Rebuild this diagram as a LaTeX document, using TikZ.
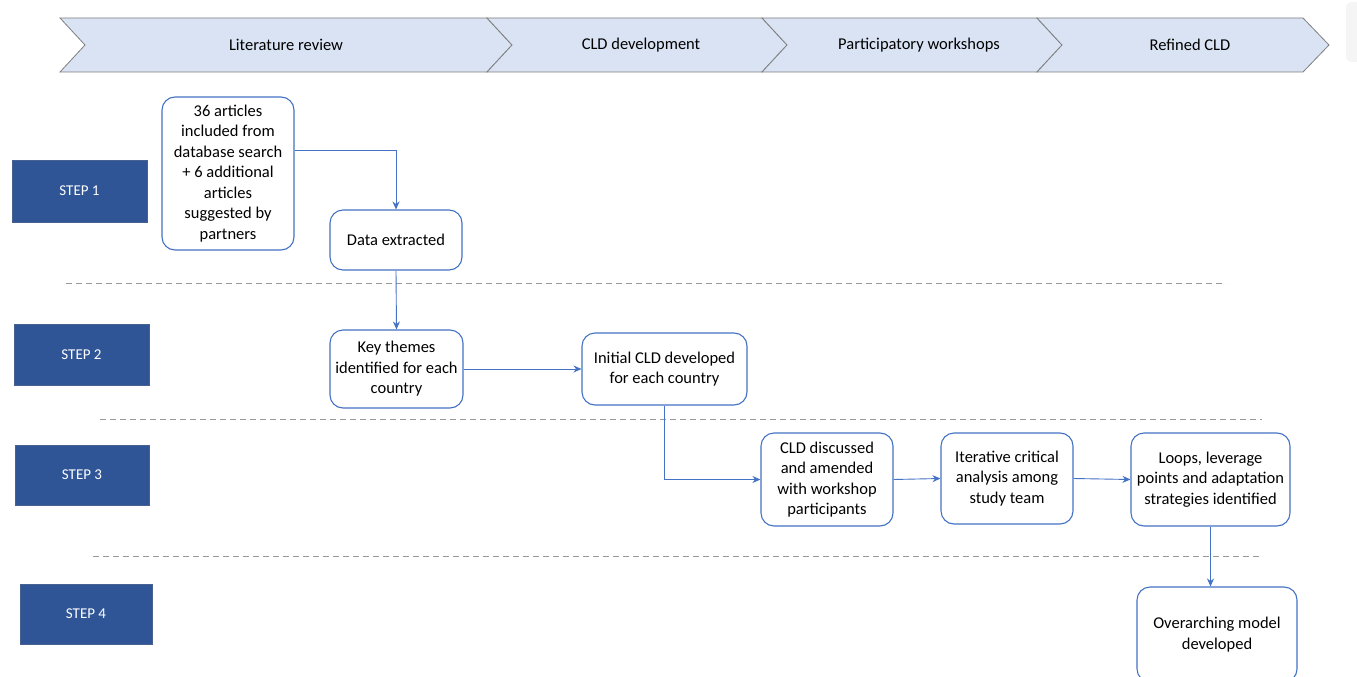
\documentclass[tikz,border=0pt]{standalone}
\usepackage{fontspec}
\setmainfont{Carlito}
\usetikzlibrary{arrows.meta}
\definecolor{barfill}{HTML}{DAE3F3}
\definecolor{baredge}{HTML}{7F7F7F}
\definecolor{stepblue}{HTML}{2F5597}
\definecolor{flowblue}{HTML}{4472C4}
\tikzset{
  x=1pt, y=-1pt,
  phase/.style={fill=barfill, draw=baredge, line width=0.8pt, line join=miter},
  phaselabel/.style={font=\fontsize{16.5}{19}\selectfont, text=black},
  stepbox/.style={fill=stepblue, draw=stepblue!70!gray, line width=0.5pt},
  steplabel/.style={font=\fontsize{15}{18}\selectfont, text=white},
  task/.style={draw=flowblue, fill=white, line width=1.1pt, rounded corners=13pt,
    align=center, font=\fontsize{16.5}{20.5}\selectfont, inner sep=0pt},
  flow/.style={draw=flowblue, line width=0.9pt, -{Stealth[length=8pt,width=7pt]}},
  divider/.style={draw=gray!80, dashed, dash pattern=on 6pt off 4pt, line width=0.9pt}
}
\begin{document}
\begin{tikzpicture}
\useasboundingbox (0,0) rectangle (1357,677);
\fill[white] (0,0) rectangle (1357,677);

% faint shadow at the right edge
\fill[gray!8, rounded corners=6pt] (1346,2) rectangle (1362,62);

% process chevrons
\path[phase] (60,18) -- (487,18) -- (512,45) -- (487,72) -- (60,72) -- (85,45) -- cycle;
\path[phase] (487,18) -- (762,18) -- (787,45) -- (762,72) -- (487,72) -- (512,45) -- cycle;
\path[phase] (762,18) -- (1037,18) -- (1062,45) -- (1037,72) -- (762,72) -- (787,45) -- cycle;
\path[phase] (1037,18) -- (1303,18) -- (1329,45) -- (1303,72) -- (1037,72) -- (1062,45) -- cycle;
\node[phaselabel] (p1) at (286,45) {Literature review};
\node[phaselabel] (p2) at (641,45) {CLD development};
\node[phaselabel] (p3) at (919,45) {Participatory workshops};
\node[phaselabel] (p4) at (1190,45) {Refined CLD};

% step labels
\path[stepbox] (12,160) rectangle (147,222);
\node[steplabel] (s1) at (79.5,191) {STEP 1};
\path[stepbox] (14,324) rectangle (149,385);
\node[steplabel] (s2) at (81.5,354.5) {STEP 2};
\path[stepbox] (15,445) rectangle (149,505);
\node[steplabel] (s3) at (82,475) {STEP 3};
\path[stepbox] (20,584) rectangle (152,644);
\node[steplabel] (s4) at (86,614) {STEP 4};

% dashed separators
\coordinate (d1a) at (66,283);  \coordinate (d1b) at (1226,283);
\coordinate (d2a) at (100,419); \coordinate (d2b) at (1262,419);
\coordinate (d3a) at (93,556);  \coordinate (d3b) at (1262,556);
\draw[divider] (d1a) -- (d1b);
\draw[divider] (d2a) -- (d2b);
\draw[divider] (d3a) -- (d3b);

% process boxes
\node[task, minimum width=132pt, minimum height=153pt] (a) at (228,173.5)
  {36 articles\\included from\\database search\\+ 6 additional\\articles\\suggested by\\partners};
\node[task, minimum width=132pt, minimum height=60pt] (b) at (396,240) {Data extracted};
\node[task, minimum width=133pt, minimum height=78pt] (c) at (396.5,369) {Key themes\\identified for each\\country};
\node[task, minimum width=165pt, minimum height=72pt] (d) at (664.5,369) {Initial CLD developed\\for each country};
\node[task, minimum width=132pt, minimum height=93pt] (e) at (827,479.5) {CLD discussed\\and amended\\with workshop\\participants};
\node[task, minimum width=132pt, minimum height=91pt] (f) at (1007,478.5) {Iterative critical\\analysis among\\study team};
\node[task, minimum width=159pt, minimum height=93pt] (g) at (1210.5,479.5) {Loops, leverage\\points and adaptation\\strategies identified};
\node[task, minimum width=160pt, minimum height=95pt] (h) at (1217,634.5) {Overarching model\\developed};

% connectors
\draw[flow] (a.east |- 0,150) -| (b.north);
\draw[flow] (b.south) -- (c.north);
\draw[flow] (c.east) -- (d.west);
\draw[flow] (d.south) |- (e.west);
\draw[flow] (e.east) -- (f.west);
\draw[flow] (f.east) -- (g.west);
\draw[flow] (g.south) -- (g.south |- h.north);
\end{tikzpicture}
\end{document}
